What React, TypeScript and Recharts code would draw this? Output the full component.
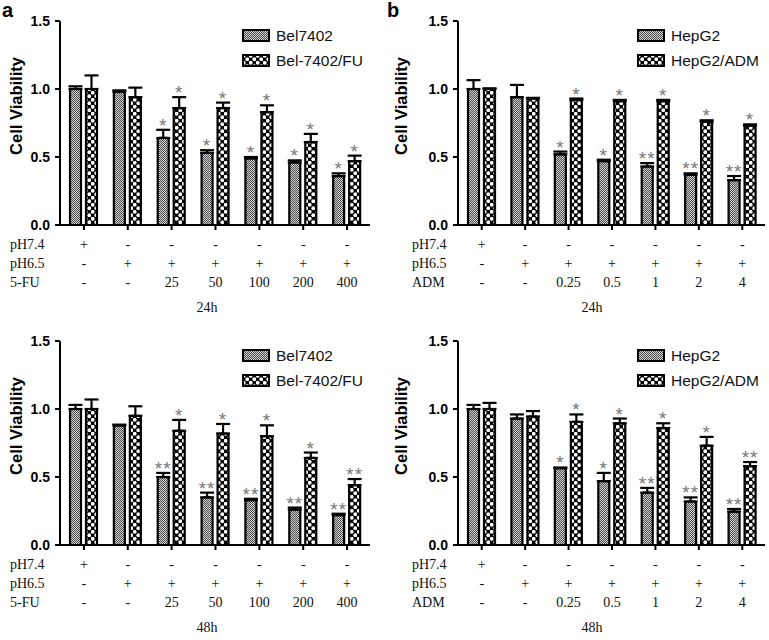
import React from 'react'
import { Bar, BarChart, ErrorBar, Label, LabelList, XAxis, YAxis } from 'recharts'

const GROUPS = ['c1', 'c2', 'c3', 'c4', 'c5', 'c6', 'c7']
const PH74 = ['+', '-', '-', '-', '-', '-', '-']
const PH65 = ['-', '+', '+', '+', '+', '+', '+']
const FU_DOSE = ['-', '-', '25', '50', '100', '200', '400']
const ADM_DOSE = ['-', '-', '0.25', '0.5', '1', '2', '4']
const Y_TICKS = [0, 0.5, 1, 1.5]

// a, 24h
const BEL_24 = [1.0, 0.98, 0.64, 0.53, 0.49, 0.46, 0.36]
const BEL_24_ERR = [0.02, 0.01, 0.06, 0.02, 0.01, 0.015, 0.02]
const BEL_24_SIG = ['', '', '*', '*', '*', '*', '*']
const BELFU_24 = [1.0, 0.94, 0.86, 0.86, 0.83, 0.61, 0.47]
const BELFU_24_ERR = [0.1, 0.07, 0.08, 0.04, 0.05, 0.06, 0.04]
const BELFU_24_SIG = ['', '', '*', '*', '*', '*', '*']

// b, 24h
const HEP_24 = [1.0, 0.94, 0.52, 0.47, 0.43, 0.37, 0.33]
const HEP_24_ERR = [0.065, 0.09, 0.02, 0.01, 0.025, 0.01, 0.03]
const HEP_24_SIG = ['', '', '*', '*', '**', '**', '**']
const ADM_24 = [1.0, 0.93, 0.92, 0.91, 0.91, 0.76, 0.73]
const ADM_24_ERR = [0.005, 0.005, 0.01, 0.01, 0.01, 0.01, 0.01]
const ADM_24_SIG = ['', '', '*', '*', '*', '*', '*']

// a, 48h
const BEL_48 = [1.0, 0.88, 0.5, 0.35, 0.33, 0.26, 0.22]
const BEL_48_ERR = [0.03, 0.005, 0.03, 0.035, 0.01, 0.015, 0.01]
const BEL_48_SIG = ['', '', '**', '**', '**', '**', '**']
const BELFU_48 = [1.0, 0.95, 0.84, 0.82, 0.8, 0.64, 0.44]
const BELFU_48_ERR = [0.07, 0.07, 0.08, 0.07, 0.08, 0.04, 0.045]
const BELFU_48_SIG = ['', '', '*', '*', '*', '*', '**']

// b, 48h
const HEP_48 = [1.0, 0.93, 0.565, 0.47, 0.385, 0.32, 0.245]
const HEP_48_ERR = [0.03, 0.03, 0.005, 0.06, 0.035, 0.03, 0.02]
const HEP_48_SIG = ['', '', '*', '*', '**', '**', '**']
const ADM_48 = [1.0, 0.945, 0.905, 0.895, 0.86, 0.73, 0.58]
const ADM_48_ERR = [0.045, 0.04, 0.055, 0.035, 0.035, 0.065, 0.03]
const ADM_48_SIG = ['', '', '*', '*', '*', '*', '**']

const SANS = '"Liberation Sans", Arial, sans-serif'
const SERIF = '"Liberation Serif", "Times New Roman", serif'

function buildRows(s1: number[], e1: number[], sig1: string[], s2: number[], e2: number[], sig2: string[]) {
  return GROUPS.map((g, i) => ({
    group: g,
    v1: s1[i],
    err1: [0, e1[i]],
    cap1: e1[i],
    sig1: sig1[i],
    v2: s2[i],
    err2: [0, e2[i]],
    cap2: e2[i],
    sig2: sig2[i],
  }))
}

function Patterns({ id }: { id: string }) {
  return (
    <defs>
      <pattern id={`${id}-fine`} patternUnits="userSpaceOnUse" width={2} height={2}>
        <rect width={2} height={2} fill="#d4d4d4" />
        <rect width={1} height={1} fill="#4a4a4a" />
        <rect x={1} y={1} width={1} height={1} fill="#4a4a4a" />
      </pattern>
      <pattern id={`${id}-dots`} patternUnits="userSpaceOnUse" width={7} height={7}>
        <rect width={7} height={7} fill="#000" />
        <circle cx={1.75} cy={1.75} r={1.9} fill="#fff" />
        <circle cx={5.25} cy={5.25} r={1.9} fill="#fff" />
      </pattern>
    </defs>
  )
}

function Stars(props: any) {
  const { x, y, width, value } = props
  if (!value) return null
  return (
    <text x={x + width / 2} y={y + 2} textAnchor="middle" fontFamily={SANS} fontSize={19} fill="#777" letterSpacing={1}>
      {value}
    </text>
  )
}

function TableTick(props: any) {
  const { x, y, index, rows, labels, labelX } = props
  return (
    <g fontFamily={SERIF} fontSize={14} fill="#111">
      {rows.map((row: string[], r: number) => (
        <text key={r} x={x} y={y + 19 + r * 19} textAnchor="middle">
          {row[index]}
        </text>
      ))}
      {index === 0 &&
        labels.map((label: string, r: number) => (
          <text key={`l${r}`} x={labelX} y={y + 19 + r * 19} textAnchor="start">
            {label}
          </text>
        ))}
    </g>
  )
}

type PanelProps = {
  id: string
  letter?: string
  left: number
  top: number
  width: number
  axisWidth: number
  rightGap: number
  rowLabelX: number
  legendX: number
  names: [string, string]
  doseLabel: string
  doses: string[]
  time: string
  rows: ReturnType<typeof buildRows>
}

function Panel({ id, letter, left, top, width, axisWidth, rightGap, rowLabelX, legendX, names, doseLabel, doses, time, rows }: PanelProps) {
  return (
    <div style={{ position: 'absolute', left, top, width, height: 320 }}>
      <BarChart width={width} height={320} data={rows} margin={{ top: 21, right: rightGap, left: 0, bottom: 0 }} barSize={11} barGap={5}>
        <Patterns id={id} />
        <XAxis
          dataKey="group"
          height={95}
          axisLine={{ stroke: '#000', strokeWidth: 2 }}
          tickLine={{ stroke: '#000', strokeWidth: 2 }}
          tickSize={5}
          tickMargin={0}
          interval={0}
          padding={{ left: 2, right: 1 }}
          tick={(p: any) => (
            <TableTick {...p} rows={[PH74, PH65, doses]} labels={['pH7.4', 'pH6.5', doseLabel]} labelX={rowLabelX} />
          )}
        >
          <Label
            content={(p: any) => (
              <text x={207} y={p.viewBox.y + 87} textAnchor="middle" fontFamily={SERIF} fontSize={14} fill="#111">
                {time}
              </text>
            )}
          />
        </XAxis>
        <YAxis
          width={axisWidth}
          domain={[0, 1.5]}
          ticks={Y_TICKS}
          interval={0}
          allowDataOverflow
          axisLine={{ stroke: '#000', strokeWidth: 2 }}
          tickLine={{ stroke: '#000', strokeWidth: 2 }}
          tickSize={5}
          tickMargin={5}
          tickFormatter={(v: number) => v.toFixed(1)}
          tick={{ fill: '#000', fontSize: 14, fontWeight: 700, fontFamily: SANS }}
        >
          <Label
            content={(p: any) => {
              const cy = p.viewBox.y + p.viewBox.height / 2 - 17
              return (
                <text
                  x={16}
                  y={cy}
                  transform={`rotate(-90 16 ${cy})`}
                  textAnchor="middle"
                  dominantBaseline="central"
                  fontFamily={SANS}
                  fontWeight={700}
                  fontSize={16.5}
                  fill="#000"
                >
                  Cell Viability
                </text>
              )
            }}
          />
        </YAxis>
        <Bar dataKey="v1" stackId="s1" fill={`url(#${id}-fine)`} stroke="#000" strokeWidth={2.2} radius={[2, 2, 0, 0]} isAnimationActive={false}>
          <ErrorBar dataKey="err1" width={7} stroke="#000" strokeWidth={2.2} direction="y" />
        </Bar>
        <Bar dataKey="cap1" stackId="s1" fill="transparent" isAnimationActive={false}>
          <LabelList dataKey="sig1" content={Stars} />
        </Bar>
        <Bar dataKey="v2" stackId="s2" fill={`url(#${id}-dots)`} stroke="#000" strokeWidth={2.2} radius={[2, 2, 0, 0]} isAnimationActive={false}>
          <ErrorBar dataKey="err2" width={7} stroke="#000" strokeWidth={2.2} direction="y" />
        </Bar>
        <Bar dataKey="cap2" stackId="s2" fill="transparent" isAnimationActive={false}>
          <LabelList dataKey="sig2" content={Stars} />
        </Bar>
      </BarChart>
      {letter && (
        <div style={{ position: 'absolute', left: 2, top: 0, fontFamily: SANS, fontWeight: 700, fontSize: 20, lineHeight: '20px' }}>
          {letter}
        </div>
      )}
      <div style={{ position: 'absolute', left: legendX, top: 29, fontFamily: SANS, fontSize: 15.5, color: '#111' }}>
        {names.map((name, i) => (
          <div key={name} style={{ display: 'flex', alignItems: 'center', height: 13, marginBottom: 12 }}>
            <svg width={28} height={13} style={{ display: 'block' }}>
              <Patterns id={`${id}-lg`} />
              <rect x={1} y={1} width={26} height={11} fill={`url(#${id}-lg-${i === 0 ? 'fine' : 'dots'})`} stroke="#000" strokeWidth={2} />
            </svg>
            <span style={{ marginLeft: 6, lineHeight: '13px', whiteSpace: 'nowrap' }}>{name}</span>
          </div>
        ))}
      </div>
    </div>
  )
}

export default function App() {
  return (
    <div style={{ position: 'absolute', left: 0, top: 0, width: 769, height: 640, background: '#fff' }}>
      <Panel
        id="a24"
        letter="a"
        left={0}
        top={0}
        width={385}
        axisWidth={60}
        rightGap={15}
        rowLabelX={10}
        legendX={242}
        names={['Bel7402', 'Bel-7402/FU']}
        doseLabel="5-FU"
        doses={FU_DOSE}
        time="24h"
        rows={buildRows(BEL_24, BEL_24_ERR, BEL_24_SIG, BELFU_24, BELFU_24_ERR, BELFU_24_SIG)}
      />
      <Panel
        id="b24"
        letter="b"
        left={385}
        top={0}
        width={384}
        axisWidth={73}
        rightGap={4}
        rowLabelX={27}
        legendX={252}
        names={['HepG2', 'HepG2/ADM']}
        doseLabel="ADM"
        doses={ADM_DOSE}
        time="24h"
        rows={buildRows(HEP_24, HEP_24_ERR, HEP_24_SIG, ADM_24, ADM_24_ERR, ADM_24_SIG)}
      />
      <Panel
        id="a48"
        left={0}
        top={320}
        width={385}
        axisWidth={60}
        rightGap={15}
        rowLabelX={10}
        legendX={242}
        names={['Bel7402', 'Bel-7402/FU']}
        doseLabel="5-FU"
        doses={FU_DOSE}
        time="48h"
        rows={buildRows(BEL_48, BEL_48_ERR, BEL_48_SIG, BELFU_48, BELFU_48_ERR, BELFU_48_SIG)}
      />
      <Panel
        id="b48"
        left={385}
        top={320}
        width={384}
        axisWidth={73}
        rightGap={4}
        rowLabelX={27}
        legendX={252}
        names={['HepG2', 'HepG2/ADM']}
        doseLabel="ADM"
        doses={ADM_DOSE}
        time="48h"
        rows={buildRows(HEP_48, HEP_48_ERR, HEP_48_SIG, ADM_48, ADM_48_ERR, ADM_48_SIG)}
      />
    </div>
  )
}
